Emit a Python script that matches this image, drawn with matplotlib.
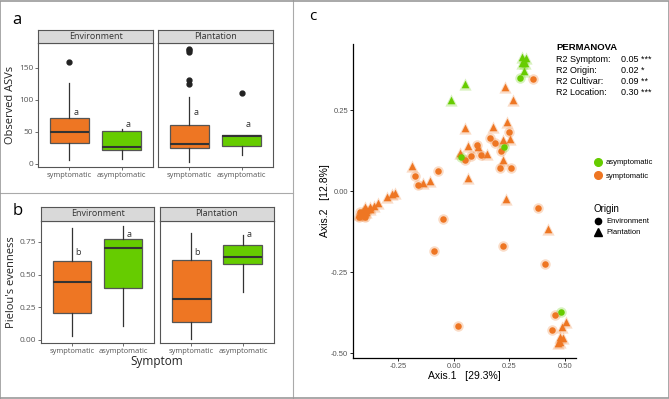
import numpy as np
import matplotlib
matplotlib.use("Agg")
import matplotlib.pyplot as plt
from matplotlib.lines import Line2D

# ---- data ----
groups = ["symptomatic", "asymptomatic"]
facets = ["Environment", "Plantation"]

# observed ASVs: (whislo, q1, med, q3, whishi), outliers
asv_stats = {
    "Environment": [(6, 33, 49, 71, 127), (7, 21, 27, 52, 55)],
    "Plantation": [(3, 24, 31, 60, 105), (13, 28, 44, 45, 45)],
}
asv_fliers = {
    "Environment": [[159], []],
    "Plantation": [[125, 131, 175, 178, 180], [110]],
}
asv_letters = {"Environment": [("a", 81), ("a", 61)], "Plantation": [("a", 81), ("a", 61)]}

pielou_stats = {
    "Environment": [(0.03, 0.21, 0.445, 0.605, 0.86), (0.11, 0.395, 0.70, 0.77, 0.87)],
    "Plantation": [(0.01, 0.14, 0.31, 0.615, 0.82), (0.37, 0.58, 0.635, 0.73, 0.80)],
}
pielou_letters = {"Environment": [("b", 0.67), ("a", 0.81)], "Plantation": [("b", 0.67), ("a", 0.81)]}

# PCoA points
env_asym_x = [-0.40, 0.297, 0.225, 0.032, 0.482]
env_asym_y = [-0.065, 0.349, 0.136, 0.105, -0.373]
pla_asym_x = [0.306, 0.324, 0.306, 0.320, 0.315, 0.050, -0.014]
pla_asym_y = [0.414, 0.410, 0.395, 0.395, 0.370, 0.330, 0.281]
env_sym_x = [0.356, 0.248, 0.162, 0.185, 0.104, 0.050, 0.077, 0.122, 0.212, 0.207, 0.257,
             -0.176, -0.072, -0.162, -0.050, 0.378, -0.090, 0.221, 0.410, 0.018, 0.455, 0.441,
             -0.43, -0.42, -0.41, -0.40, -0.425, -0.39]
env_sym_y = [0.346, 0.182, 0.164, 0.148, 0.142, 0.096, 0.108, 0.111, 0.123, 0.071, 0.071,
             0.046, 0.062, 0.019, -0.086, -0.052, -0.185, -0.170, -0.225, -0.417, -0.383, -0.429,
             -0.08, -0.075, -0.07, -0.08, -0.065, -0.06]
pla_sym_x = [0.230, 0.266, 0.050, 0.176, 0.239, 0.221, 0.252, 0.063, 0.108, 0.027, 0.149, 0.221,
             0.063, -0.189, -0.140, -0.108, -0.266, -0.279, -0.302, -0.342, -0.378, 0.234, 0.423,
             0.505, 0.486, 0.477, 0.491, 0.477, 0.468,
             -0.41, -0.40, -0.395, -0.38, -0.415, -0.43, -0.36]
pla_sym_y = [0.321, 0.281, 0.194, 0.198, 0.213, 0.157, 0.160, 0.139, 0.136, 0.117, 0.114, 0.096,
             0.040, 0.077, 0.025, 0.031, -0.006, -0.009, -0.019, -0.037, -0.049, -0.025, -0.117,
             -0.404, -0.420, -0.451, -0.454, -0.466, -0.469,
             -0.06, -0.05, -0.065, -0.055, -0.075, -0.07, -0.045]

permanova_names = ["R2 Symptom:", "R2 Origin:", "R2 Cultivar:", "R2 Location:"]
permanova_vals = ["0.05 ***", "0.02 *", "0.09 **", "0.30 ***"]

orange = "#EE7623"
green = "#66CC00"
box_colors = [orange, green]
W, H = 669, 399

fig = plt.figure(figsize=(6.69, 3.99), dpi=100)


def px_axes(x0, y0, x1, y1):
    return fig.add_axes([x0 / W, 1 - y1 / H, (x1 - x0) / W, (y1 - y0) / H])


def box_panel(ax, stats, fliers, letters, ylim, show_y, yticks, yfmt):
    bxs = []
    for i, s in enumerate(stats):
        bxs.append(dict(whislo=s[0], q1=s[1], med=s[2], q3=s[3], whishi=s[4],
                        fliers=fliers[i] if fliers else [], label=groups[i]))
    b = ax.bxp(bxs, positions=[1, 2], widths=0.75, patch_artist=True, showcaps=False,
               boxprops=dict(edgecolor="#555555", linewidth=0.9),
               medianprops=dict(color="#333333", linewidth=1.5),
               whiskerprops=dict(color="#333333", linewidth=0.9),
               flierprops=dict(marker="o", markerfacecolor="#222222", markeredgecolor="#222222",
                               markersize=3.5))
    for p, c in zip(b["boxes"], box_colors):
        p.set_facecolor(c)
    for i, (lab, y) in enumerate(letters):
        ax.text(i + 1.12, y, lab, fontsize=6.5, color="#333333", ha="center", va="center")
    ax.set_xlim(0.4, 2.6)
    ax.set_ylim(*ylim)
    ax.set_xticks([1, 2])
    ax.set_xticklabels(groups, fontsize=5.4, color="#555555")
    ax.set_yticks(yticks)
    ax.tick_params(length=2, width=0.6, color="#555555", pad=1.5)
    if show_y:
        ax.set_yticklabels([yfmt(v) for v in yticks], fontsize=6, color="#555555")
    else:
        ax.set_yticklabels([])
        ax.tick_params(axis="y", length=0)
    for sp in ax.spines.values():
        sp.set_color("#555555")
        sp.set_linewidth(0.8)


def strip(x0, y0, x1, y1, label):
    s = px_axes(x0, y0, x1, y1)
    s.set_facecolor("#D9D9D9")
    s.set_xticks([])
    s.set_yticks([])
    for sp in s.spines.values():
        sp.set_color("#555555")
        sp.set_linewidth(0.8)
    s.text(0.5, 0.5, label, ha="center", va="center", fontsize=6.5, color="#333333")


plt.rcParams["font.family"] = ["Open Sans", "DejaVu Sans"]

# ---- panel a ----
a_x = [(38, 153), (158, 273)]
for k, f in enumerate(facets):
    ax = px_axes(a_x[k][0], 43, a_x[k][1], 167)
    box_panel(ax, asv_stats[f], asv_fliers[f], asv_letters[f], (-5, 189), k == 0,
              [0, 50, 100, 150], lambda v: "%d" % v)
    if k == 0:
        ax.set_ylabel("Observed ASVs", fontsize=8, color="#222222", labelpad=2)
    strip(a_x[k][0], 30, a_x[k][1], 43, f)

# ---- panel b ----
b_x = [(41, 154), (160, 274)]
for k, f in enumerate(facets):
    ax = px_axes(b_x[k][0], 221, b_x[k][1], 343)
    box_panel(ax, pielou_stats[f], None, pielou_letters[f], (-0.023, 0.91), k == 0,
              [0, 0.25, 0.5, 0.75], lambda v: "%.2f" % v)
    if k == 0:
        ax.set_ylabel("Pielou's evenness", fontsize=8, color="#222222", labelpad=2)
    strip(b_x[k][0], 207, b_x[k][1], 221, f)
fig.text(157 / W, 1 - 361 / H, "Symptom", ha="center", va="center", fontsize=8.5, color="#222222")

# ---- panel c ----
plt.rcParams["font.family"] = ["Liberation Sans", "DejaVu Sans"]
ax = px_axes(353, 44, 576, 358)


def pts(x, y, c, m, s):
    ax.scatter(x, y, s=s * 2.6, color=c, marker=m, alpha=0.25, linewidths=0, zorder=2)
    ax.scatter(x, y, s=s, color=c, marker=m, linewidths=0, zorder=3)


pts(env_asym_x[:1], env_asym_y[:1], green, "o", 22)
pts(env_sym_x, env_sym_y, orange, "o", 22)
pts(pla_sym_x, pla_sym_y, orange, "^", 30)
pts(pla_asym_x, pla_asym_y, green, "^", 30)
pts(env_asym_x[1:], env_asym_y[1:], green, "o", 22)

ax.set_xlim(-0.455, 0.55)
ax.set_ylim(-0.515, 0.454)
ax.set_xticks([-0.25, 0, 0.25, 0.5])
ax.set_xticklabels(["-0.25", "0.00", "0.25", "0.50"])
ax.set_yticks([-0.5, -0.25, 0, 0.25])
ax.set_yticklabels(["-0.50", "-0.25", "0.00", "0.25"])
ax.tick_params(labelsize=5.5, labelcolor="#555555", length=2, width=0.6, pad=1.5)
for sp in ["top", "right"]:
    ax.spines[sp].set_visible(False)
for sp in ["left", "bottom"]:
    ax.spines[sp].set_linewidth(0.9)
ax.set_xlabel("Axis.1   [29.3%]", fontsize=7.5, labelpad=1)
ax.set_ylabel("Axis.2   [12.8%]", fontsize=7.5, labelpad=1)

fig.text(556 / W, 1 - 48 / H, "PERMANOVA", fontsize=6.8, fontweight="bold", va="center")
for i, (n, v) in enumerate(zip(permanova_names, permanova_vals)):
    yy = 1 - (60 + i * 10.7) / H
    fig.text(556 / W, yy, n, fontsize=6.5, va="center")
    fig.text(621 / W, yy, v, fontsize=6.5, va="center")

h1 = [Line2D([], [], marker="o", ls="", color=green, markersize=5.5),
      Line2D([], [], marker="o", ls="", color=orange, markersize=5.5)]
leg1 = ax.legend(h1, ["asymptomatic", "symptomatic"], loc="upper left",
                 bbox_to_anchor=(590 / W, 1 - 156 / H), bbox_transform=fig.transFigure,
                 frameon=False, fontsize=5.5, handletextpad=0.5, labelspacing=0.8,
                 borderaxespad=0, handlelength=1.2)
ax.add_artist(leg1)
h2 = [Line2D([], [], marker="o", ls="", color="black", markersize=4.5),
      Line2D([], [], marker="^", ls="", color="black", markersize=5.5)]
leg2 = ax.legend(h2, ["Environment", "Plantation"], title="Origin", loc="upper left",
                 bbox_to_anchor=(590 / W, 1 - 201 / H), bbox_transform=fig.transFigure,
                 frameon=False, fontsize=5.5, title_fontsize=7, handletextpad=0.5,
                 labelspacing=0.5, borderaxespad=0, handlelength=1.2, alignment="left")

# ---- panel letters & dividers ----
fig.text(12 / W, 1 - 20 / H, "a", fontsize=12, va="center", family="Open Sans")
fig.text(13 / W, 1 - 211 / H, "b", fontsize=12, va="center", family="Open Sans")
fig.text(309 / W, 1 - 17 / H, "c", fontsize=11, va="center", family="Open Sans")
lc = "#AAAAAA"
fig.add_artist(Line2D([293 / W, 293 / W], [0, 1], color=lc, lw=0.8))
fig.add_artist(Line2D([0, 293 / W], [1 - 193 / H, 1 - 193 / H], color=lc, lw=0.8))
fig.add_artist(Line2D([0, 1, 1, 0, 0], [0.002, 0.002, 0.998, 0.998, 0.002], color="#999999", lw=1.2))

fig.savefig("out.png", dpi=100)
